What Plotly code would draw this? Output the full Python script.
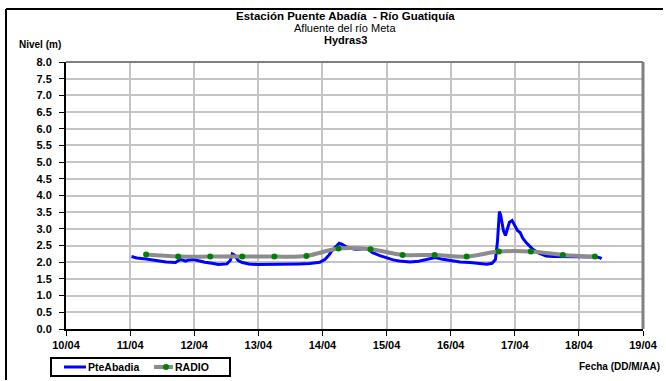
import plotly.graph_objects as go

# PteAbadia gauge readings (timestamp, level in metres)
pte_time = [
    "2012-04-11 00:30", "2012-04-11 02:30", "2012-04-11 06:00", "2012-04-11 09:30",
    "2012-04-11 13:30", "2012-04-11 17:00", "2012-04-11 18:15", "2012-04-11 19:15",
    "2012-04-11 20:45", "2012-04-11 22:00", "2012-04-11 23:45", "2012-04-12 02:00",
    "2012-04-12 04:00", "2012-04-12 07:15", "2012-04-12 09:00", "2012-04-12 12:15",
    "2012-04-12 13:30", "2012-04-12 14:15", "2012-04-12 15:00", "2012-04-12 15:30",
    "2012-04-12 16:30", "2012-04-12 18:00", "2012-04-12 20:30", "2012-04-13 00:00",
    "2012-04-13 02:30", "2012-04-13 07:15", "2012-04-13 12:00", "2012-04-13 15:00",
    "2012-04-13 19:15", "2012-04-13 23:00", "2012-04-14 01:00", "2012-04-14 02:30",
    "2012-04-14 03:30", "2012-04-14 05:15", "2012-04-14 06:15", "2012-04-14 07:15",
    "2012-04-14 08:45", "2012-04-14 10:45", "2012-04-14 12:15", "2012-04-14 14:30",
    "2012-04-14 16:00", "2012-04-14 17:15", "2012-04-14 18:45", "2012-04-14 21:30",
    "2012-04-14 23:45", "2012-04-15 02:30", "2012-04-15 04:45", "2012-04-15 08:45",
    "2012-04-15 12:00", "2012-04-15 15:00", "2012-04-15 17:15", "2012-04-15 18:15",
    "2012-04-15 20:30", "2012-04-16 00:30", "2012-04-16 03:30", "2012-04-16 07:15",
    "2012-04-16 10:45", "2012-04-16 13:30", "2012-04-16 15:30", "2012-04-16 16:45",
    "2012-04-16 17:30", "2012-04-16 18:15", "2012-04-16 18:45", "2012-04-16 19:45",
    "2012-04-16 20:30", "2012-04-16 21:00", "2012-04-16 22:00", "2012-04-16 23:00",
    "2012-04-17 00:00", "2012-04-17 01:00", "2012-04-17 02:00", "2012-04-17 03:00",
    "2012-04-17 04:15", "2012-04-17 06:45", "2012-04-17 09:00", "2012-04-17 11:45",
    "2012-04-17 14:30", "2012-04-17 18:00", "2012-04-18 00:15", "2012-04-18 03:30",
    "2012-04-18 06:30", "2012-04-18 08:00", "2012-04-18 08:30",
]
pte_level = [
    2.17, 2.13, 2.10, 2.05,
    2.01, 1.99, 2.06, 2.08,
    2.03, 2.07, 2.08, 2.04,
    2.00, 1.96, 1.93, 1.95,
    2.05, 2.25, 2.22, 2.17,
    2.05, 1.99, 1.95, 1.93,
    1.93, 1.94, 1.95, 1.95,
    1.96, 2.00, 2.09, 2.22,
    2.34, 2.50, 2.57, 2.54,
    2.47, 2.42, 2.39, 2.40,
    2.41, 2.38, 2.29, 2.20,
    2.14, 2.07, 2.04, 2.01,
    2.03, 2.09, 2.13, 2.14,
    2.10, 2.04, 2.01, 1.99,
    1.95, 1.94, 1.97, 2.08,
    2.60, 3.52, 3.40, 2.95,
    2.80, 2.95, 3.20, 3.25,
    3.10, 2.95, 2.89, 2.72,
    2.59, 2.39, 2.27, 2.19,
    2.17, 2.17, 2.16, 2.17,
    2.16, 2.13, 2.11,
]

# RADIO reports, twice a day
radio_time = [
    "2012-04-11 06:00", "2012-04-11 18:00", "2012-04-12 06:00", "2012-04-12 18:00",
    "2012-04-13 06:00", "2012-04-13 18:00", "2012-04-14 06:00", "2012-04-14 18:00",
    "2012-04-15 06:00", "2012-04-15 18:00", "2012-04-16 06:00", "2012-04-16 18:00",
    "2012-04-17 06:00", "2012-04-17 18:00", "2012-04-18 06:00",
]
radio_level = [
    2.23, 2.17, 2.17, 2.17,
    2.17, 2.19, 2.41, 2.39,
    2.22, 2.22, 2.17, 2.32,
    2.32, 2.22, 2.17,
]

x_ticks = ["2012-04-%02d" % d for d in range(10, 20)]
x_labels = ["%02d/04" % d for d in range(10, 20)]

FONT = "Liberation Sans, Arial, sans-serif"
BLUE, GRAY, GREEN = "#0000FF", "#8c8c8c", "#008000"

fig = go.Figure()
fig.add_trace(go.Scatter(
    x=pte_time, y=pte_level, name="PteAbadia", mode="lines",
    line=dict(color=BLUE, width=3), showlegend=False,
))
fig.add_trace(go.Scatter(
    x=radio_time, y=radio_level, name="RADIO", mode="lines+markers",
    line=dict(color=GRAY, width=4, shape="spline", smoothing=1.0),
    marker=dict(color=GREEN, size=6), showlegend=False,
))

W, H = 666, 381
L, R, T, B = 66, 23, 62, 52
pw, ph = W - L - R, H - T - B


def px_x(px):
    return (px - L) / pw


def px_y(py):
    return (H - B - py) / ph


def hline(x0, x1, y, color, width):
    return dict(type="line", xref="paper", yref="paper",
                x0=px_x(x0), x1=px_x(x1), y0=px_y(y), y1=px_y(y),
                line=dict(color=color, width=width))


def vline(x, y0, y1, color, width):
    return dict(type="line", xref="paper", yref="paper",
                x0=px_x(x), x1=px_x(x), y0=px_y(y0), y1=px_y(y1),
                line=dict(color=color, width=width))


def label(text, x, y, size, xanchor="center"):
    return dict(text=text, xref="paper", yref="paper", x=px_x(x), y=px_y(y),
                xanchor=xanchor, yanchor="middle", showarrow=False,
                font=dict(size=size))


# boxed legend below the axis
LEG_Y = 367
legend_shapes = [
    dict(type="rect", xref="paper", yref="paper",
         x0=px_x(51), x1=px_x(230), y0=px_y(358), y1=px_y(376),
         line=dict(color="black", width=2), fillcolor="white"),
    hline(64, 86, LEG_Y, BLUE, 3),
    hline(154, 173, LEG_Y, GRAY, 4),
    dict(type="circle", xref="paper", yref="paper",
         x0=px_x(163), x1=px_x(169), y0=px_y(LEG_Y - 3), y1=px_y(LEG_Y + 3),
         line=dict(width=0), fillcolor=GREEN),
]

fig.update_layout(
    width=W, height=H,
    margin=dict(l=L, r=R, t=T, b=B, pad=0, autoexpand=False),
    paper_bgcolor="white", plot_bgcolor="white",
    font=dict(family=FONT, color="black", size=10),
    showlegend=False,
    xaxis=dict(
        type="date", range=["2012-04-10", "2012-04-19"],
        tickvals=x_ticks, ticktext=x_labels, automargin=False,
        showgrid=True, gridcolor="#c4c4c4", gridwidth=2,
        showline=True, linecolor="black", linewidth=2,
        ticks="outside", ticklen=5, tickcolor="black", tickwidth=1,
        tickfont=dict(family=FONT, size=11, weight="bold"),
        zeroline=False,
    ),
    yaxis=dict(
        range=[0, 8], dtick=0.5, tick0=0, tickformat=".1f", automargin=False,
        showgrid=True, gridcolor="#c4c4c4", gridwidth=2,
        showline=True, linecolor="black", linewidth=2,
        ticks="outside", ticklen=5, tickcolor="black", tickwidth=1,
        ticklabelstandoff=5,
        tickfont=dict(family=FONT, size=11, weight="bold"),
        zeroline=False,
    ),
    shapes=[
        # gray frame around the plotting area (top and right)
        dict(type="line", xref="paper", yref="paper", x0=0, x1=1, y0=1, y1=1,
             line=dict(color="#808080", width=2)),
        dict(type="line", xref="paper", yref="paper", x0=1, x1=1, y0=0, y1=1,
             line=dict(color="#808080", width=3)),
        # outer black frame of the chart (top and left edges)
        hline(6, 663, 9, "black", 2),
        vline(6, 9, H - 1, "black", 2),
    ] + legend_shapes,
    annotations=[
        label("<b>Estación Puente Abadía  - Río Guatiquía</b>", 345, 16, 11.5),
        label("Afluente del río Meta", 345, 28, 11),
        label("<b>Hydras3</b>", 345, 40, 11),
        label("<b>Nivel (m)</b>", 40, 44, 10),
        label("<b>Fecha (DD/M/AA)</b>", 662, 366, 10, xanchor="right"),
        label("<b>PteAbadia</b>", 86, LEG_Y, 10.5, xanchor="left"),
        label("<b>RADIO</b>", 173, LEG_Y, 10.5, xanchor="left"),
    ],
)

fig.write_html("out.html")
